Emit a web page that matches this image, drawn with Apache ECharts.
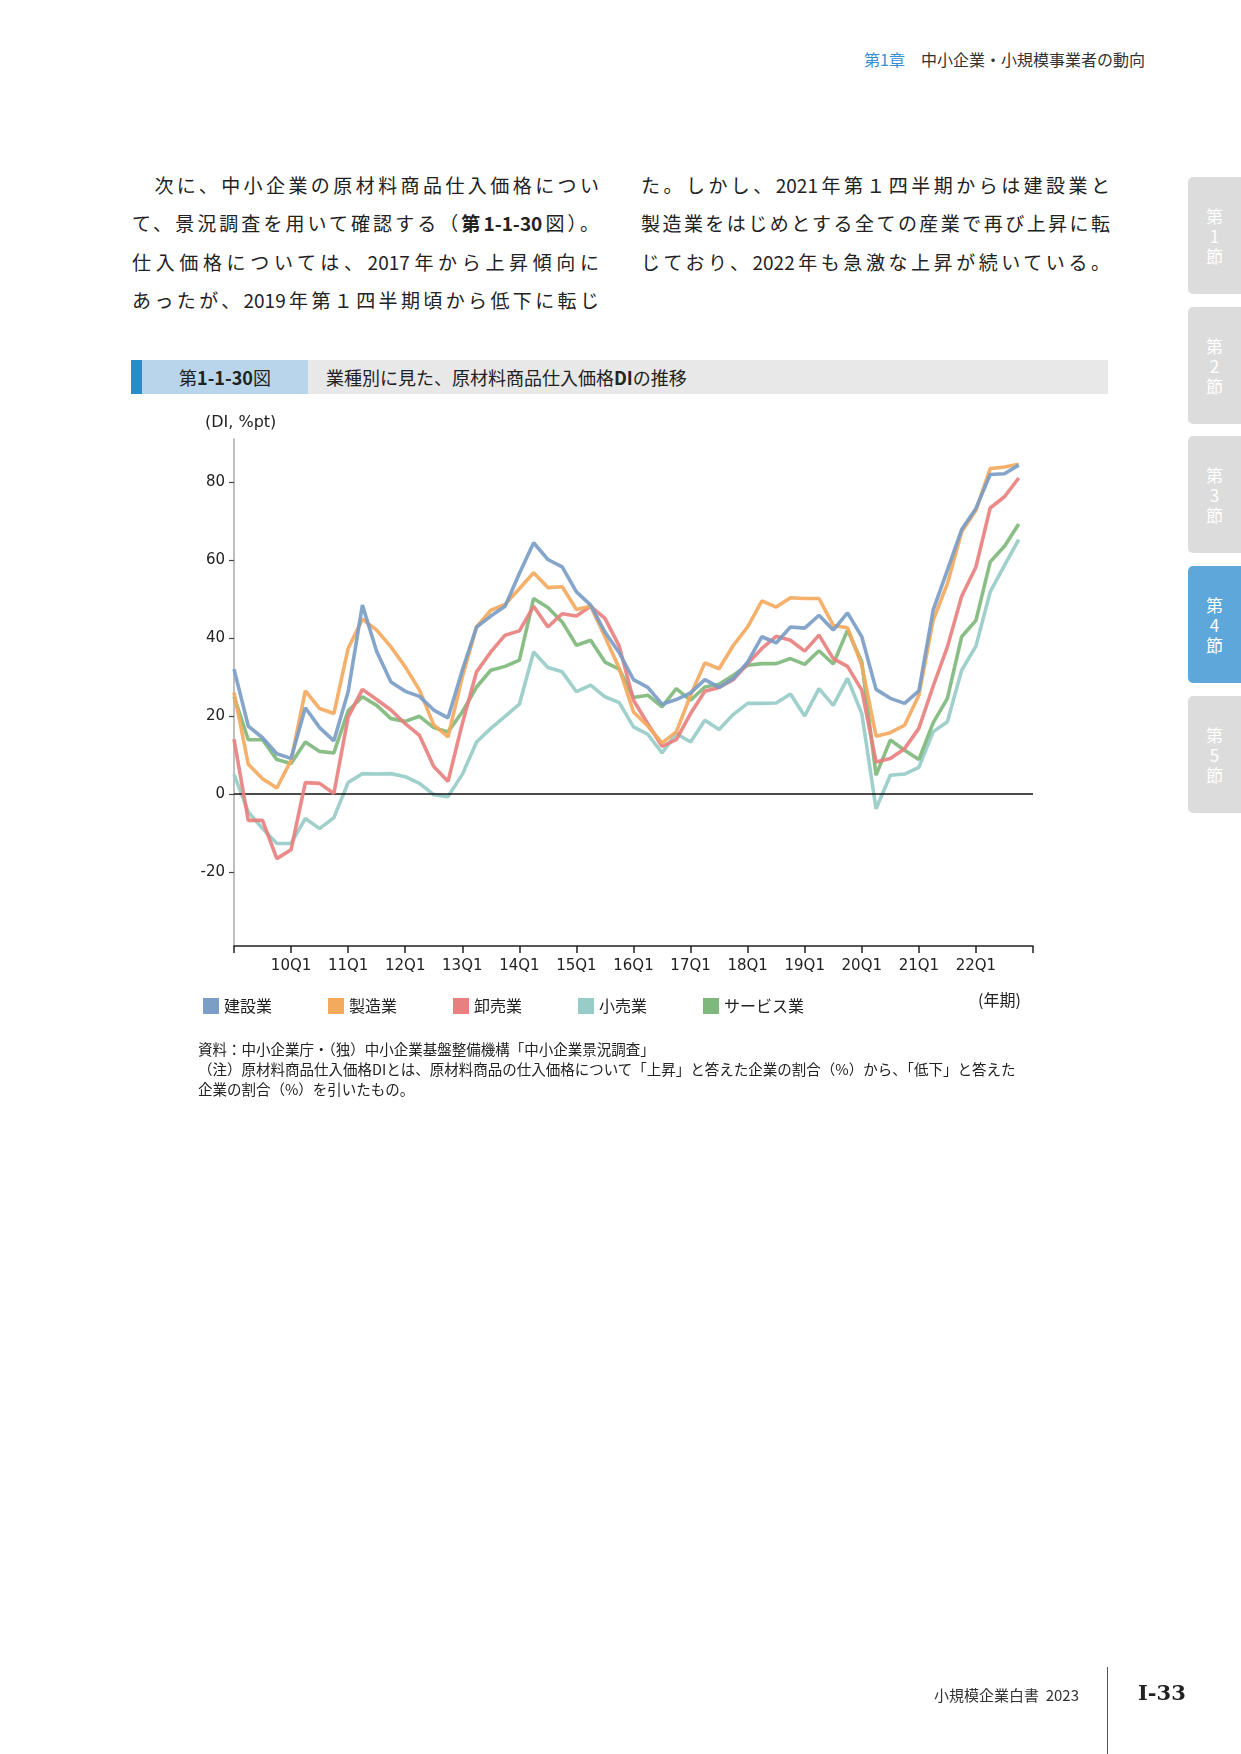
<!DOCTYPE html>
<html lang="ja">
<head>
<meta charset="utf-8">
<script src="https://cdn.jsdelivr.net/npm/echarts@6.0.0/dist/echarts.min.js"></script>
<style>
body{margin:0;width:1241px;height:1754px;position:relative;background:#fff;font-family:"Noto Sans CJK JP",sans-serif;color:#222;overflow:hidden}
#chart{position:absolute;left:0;top:0;width:1241px;height:1754px}
.abs{position:absolute;white-space:nowrap}
.col{position:absolute;top:166px;font-size:19px;line-height:38.3px;color:#222}
.col div{text-align:justify;text-align-last:justify;white-space:nowrap}
.col b{font-weight:700}
.tab{position:absolute;left:1188px;width:53px;height:117px;background:#dcdcdc;border-radius:5px 0 0 5px;color:#fff;font-size:17px;line-height:20px;text-align:center;display:flex;align-items:center;justify-content:center}
.tab.on{background:#5ea7da}
.note{position:absolute;left:198px;font-size:14.5px;line-height:20px;color:#222;white-space:nowrap}
</style>
</head>
<body>
<div class="abs" style="left:864px;top:47px;font-size:16px;color:#333"><span style="color:#3a8fcf">第1章</span>　中小企業・小規模事業者の動向</div>

<div class="col" style="left:132px;width:467px">
<div>　次に、中小企業の原材料商品仕入価格につい</div>
<div>て、景況調査を用いて確認する（<b>第1-1-30</b>図）。</div>
<div>仕入価格については、2017年から上昇傾向に</div>
<div>あったが、2019年第１四半期頃から低下に転じ</div>
</div>
<div class="col" style="left:641px;width:469px">
<div>た。しかし、2021年第１四半期からは建設業と</div>
<div>製造業をはじめとする全ての産業で再び上昇に転</div>
<div>じており、2022年も急激な上昇が続いている。</div>
</div>

<div class="tab" style="top:177px">第<br>1<br>節</div>
<div class="tab" style="top:307px">第<br>2<br>節</div>
<div class="tab" style="top:436px">第<br>3<br>節</div>
<div class="tab on" style="top:566px">第<br>4<br>節</div>
<div class="tab" style="top:696px">第<br>5<br>節</div>

<div class="abs" style="left:131px;top:360px;width:977px;height:34px;background:#e8e8e8"></div>
<div class="abs" style="left:131px;top:360px;width:11px;height:34px;background:#2a8dc9"></div>
<div class="abs" style="left:142px;top:360px;width:166px;height:34px;background:#b9d5eb;font-size:18px;line-height:34px;text-align:center">第<b>1-1-30</b>図</div>
<div class="abs" style="left:326px;top:360px;font-size:18px;line-height:34px">業種別に見た、原材料商品仕入価格<b>DI</b>の推移</div>

<div id="chart"></div>

<div class="note" style="top:1039px">資料：中小企業庁・（独）中小企業基盤整備機構「中小企業景況調査」</div>
<div class="note" style="top:1059px">（注）原材料商品仕入価格DIとは、原材料商品の仕入価格について「上昇」と答えた企業の割合（%）から、「低下」と答えた</div>
<div class="note" style="top:1079px">企業の割合（%）を引いたもの。</div>

<div class="abs" style="left:934px;top:1684px;font-size:15px;color:#333">小規模企業白書&nbsp;&nbsp;2023</div>
<div class="abs" style="left:1107px;top:1667px;width:1px;height:87px;background:#555"></div>
<div class="abs" style="left:1138px;top:1680px;font-size:21px;font-weight:700;font-family:'DejaVu Serif',serif;color:#222">Ⅰ-33</div>

<script>
var years = ['09','10','11','12','13','14','15','16','17','18','19','20','21','22','23'];
var quarters = ['Q1','Q2','Q3','Q4'];
var categories = [];
years.forEach(function(y){ quarters.forEach(function(q){ categories.push(y + q); }); });
categories = categories.slice(0, 57);

var yTicks = [-20, 0, 20, 40, 60, 80];

var construction = [32, 17.4, 14.4, 10.3, 9.1, 22.1, 17.0, 13.6, 26.2, 48.4, 36.5, 28.7, 26.3, 25.0, 21.5, 19.5,
  31.7, 42.8, 45.6, 48.1, 56.5, 64.4, 60.1, 58.2, 51.8, 48.4, 41.5, 36.2, 29.3, 27.3, 23.0, 24.2,
  25.9, 29.3, 27.3, 29.6, 33.8, 40.3, 38.7, 42.8, 42.5, 45.8, 42.0, 46.4, 40.3, 26.8, 24.5, 23.2,
  26.4, 47.1, 57.4, 67.8, 73.2, 81.9, 82.1, 84.3];
var manufacturing = [26, 7.6, 3.9, 1.5, 8.6, 26.4, 21.9, 20.6, 37.3, 44.8, 42.0, 37.7, 32.6, 26.6, 17.7, 14.6,
  30.0, 42.8, 47.1, 48.6, 52.6, 56.7, 52.9, 53.1, 47.3, 48.1, 40.3, 32.2, 21.0, 17.4, 13.1, 15.9,
  25.3, 33.6, 32.1, 38.1, 42.8, 49.5, 47.9, 50.3, 50.1, 50.1, 43.2, 42.6, 33.0, 14.8, 15.7, 17.6,
  25.3, 44.5, 53.9, 67.2, 72.7, 83.4, 83.8, 84.5];
var wholesale = [14, -6.8, -6.8, -16.6, -14.3, 2.9, 2.7, 0.1, 19.7, 26.8, 24.2, 21.5, 18.0, 15.0, 7.0, 3.2,
  18.0, 31.3, 36.4, 40.7, 41.8, 48.1, 42.8, 46.2, 45.6, 48.1, 45.0, 37.9, 24.0, 18.0, 12.2, 13.9,
  20.6, 26.3, 27.3, 29.3, 33.4, 37.3, 40.4, 39.4, 36.6, 40.7, 34.7, 32.7, 26.6, 8.2, 9.1, 11.6,
  16.8, 27.6, 37.7, 50.7, 58.2, 73.3, 76.2, 81.0];
var retail = [5, -4.6, -8.9, -12.7, -12.7, -6.3, -8.9, -6.1, 2.9, 5.2, 5.1, 5.2, 4.4, 2.7, -0.2, -0.7,
  5.0, 13.3, 16.8, 19.9, 23.0, 36.4, 32.4, 31.3, 26.2, 27.9, 24.9, 23.4, 17.2, 15.3, 10.5, 15.5,
  13.3, 18.9, 16.5, 20.4, 23.2, 23.2, 23.3, 25.6, 20.0, 27.0, 22.7, 29.6, 20.6, -3.8, 4.8, 5.1,
  6.8, 15.9, 18.5, 31.7, 37.9, 51.8, 58.6, 65.2];
var services = [25, 13.9, 13.9, 8.8, 7.8, 13.3, 10.9, 10.5, 21.3, 24.9, 22.7, 19.3, 18.6, 19.9, 17.0, 15.9,
  21.0, 27.4, 31.7, 32.7, 34.3, 50.1, 47.8, 44.1, 38.1, 39.4, 33.8, 32.0, 24.7, 25.3, 22.3, 27.0,
  24.0, 27.4, 28.1, 30.4, 33.0, 33.4, 33.4, 34.7, 33.2, 36.7, 33.3, 42.0, 33.8, 4.8, 13.8, 11.2,
  8.8, 18.2, 24.5, 40.3, 44.5, 59.5, 63.5, 69.2];

var names = ['建設業', '製造業', '卸売業', '小売業', 'サービス業'];
var colors = ['#7b9dc6', '#f4aa5e', '#e8807f', '#98ccc7', '#7fb87c'];
var values = [construction, manufacturing, wholesale, retail, services];
var zs = [7, 6, 5, 3, 4];

var myChart = echarts.init(document.getElementById('chart'));
var series = names.map(function(n, k){
  var s = {
    name: n,
    type: 'line',
    data: values[k],
    symbol: 'none',
    z: zs[k],
    itemStyle: { color: colors[k] },
    lineStyle: { color: colors[k], width: 3.6, opacity: 0.92 },
    animation: false
  };
  if (k === 0) {
    s.markLine = {
      silent: true,
      symbol: ['none', 'none'],
      label: { show: false },
      lineStyle: { color: '#111', width: 1.5, type: 'solid', opacity: 1 },
      data: [{ yAxis: 0 }],
      animation: false
    };
  }
  return s;
});

var option = {
  animation: false,
  grid: { left: 234, right: 208, top: 439, bottom: 808 },
  xAxis: {
    type: 'category',
    data: categories,
    boundaryGap: false,
    axisLine: { onZero: false, lineStyle: { color: '#222', width: 1.5 } },
    axisTick: { interval: 3, length: 7, lineStyle: { color: '#222', width: 1.5 } },
    axisLabel: {
      interval: 3, margin: 13, color: '#222', fontSize: 15, fontFamily: 'DejaVu Sans',
      formatter: function(v){ return (v === '09Q1' || v === '23Q1') ? '' : v; }
    },
    splitLine: { show: false }
  },
  yAxis: {
    type: 'value',
    min: -39,
    max: 91,
    axisLine: { show: true, lineStyle: { color: '#aaa', width: 1.5 } },
    axisTick: { show: true, length: 5, customValues: yTicks, lineStyle: { color: '#444', width: 1.2 } },
    axisLabel: { customValues: yTicks, margin: 9, color: '#222', fontSize: 15, fontFamily: 'DejaVu Sans' },
    splitLine: { show: false }
  },
  legend: {
    data: names,
    left: 198,
    top: 993,
    icon: 'rect',
    itemWidth: 16,
    itemHeight: 16,
    itemGap: 56,
    textStyle: { color: '#222', fontSize: 16, fontFamily: 'Noto Sans CJK JP' }
  },
  graphic: [
    { type: 'text', left: 205, top: 415, style: { text: '(DI, %pt)', fill: '#222', font: '16px "DejaVu Sans"' } },
    { type: 'text', left: 978, top: 992, style: { text: '(年期)', fill: '#222', font: '16px "Noto Sans CJK JP"' } }
  ],
  series: series
};

if (option && typeof option === 'object') {
  myChart.setOption(option);
}
</script>
</body>
</html>
